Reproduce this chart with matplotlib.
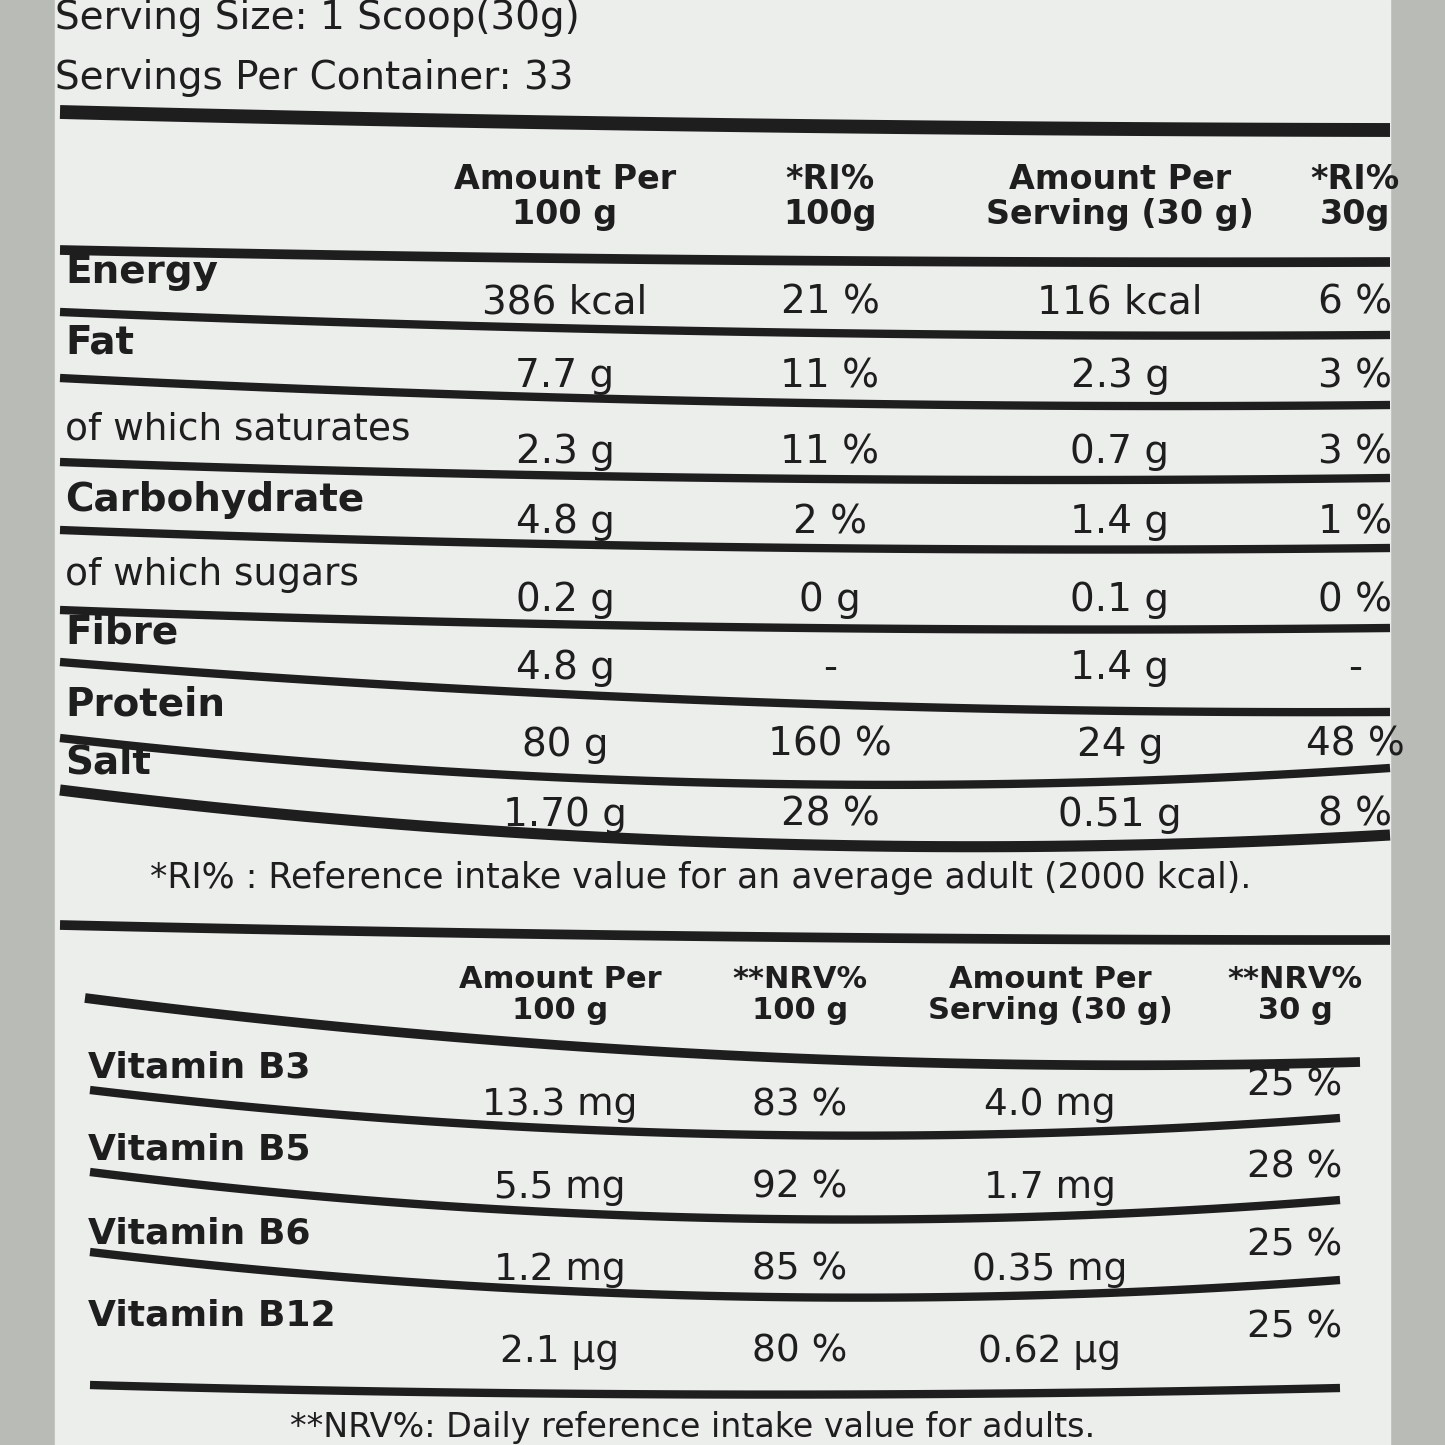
import matplotlib
matplotlib.use('Agg')
import matplotlib.pyplot as plt
import numpy as np

# nutrition table data
nutrients = ['Energy', 'Fat', 'of which saturates', 'Carbohydrate',
             'of which sugars', 'Fibre', 'Protein', 'Salt']
bold_rows = [True, True, False, True, False, True, True, True]
per_100g = ['386 kcal', '7.7 g', '2.3 g', '4.8 g', '0.2 g', '4.8 g', '80 g', '1.70 g']
ri_100g = ['21 %', '11 %', '11 %', '2 %', '0 g', '-', '160 %', '28 %']
per_serving = ['116 kcal', '2.3 g', '0.7 g', '1.4 g', '0.1 g', '1.4 g', '24 g', '0.51 g']
ri_serving = ['6 %', '3 %', '3 %', '1 %', '0 %', '-', '48 %', '8 %']

vitamins = ['Vitamin B3', 'Vitamin B5', 'Vitamin B6', 'Vitamin B12']
vit_100g = ['13.3 mg', '5.5 mg', '1.2 mg', '2.1 µg']
nrv_100g = ['83 %', '92 %', '85 %', '80 %']
vit_serving = ['4.0 mg', '1.7 mg', '0.35 mg', '0.62 µg']
nrv_serving = ['25 %', '28 %', '25 %', '25 %']

fig = plt.figure(figsize=(14.45, 14.45), dpi=100)
fig.patch.set_facecolor('#b9bcb6')
ax = fig.add_axes([0, 0, 1, 1])
ax.set_xlim(0, 1445)
ax.set_ylim(1445, 0)
ax.axis('off')
ax.add_patch(plt.Rectangle((55, 0), 1335, 1445, color='#eceeec', zorder=0))

ink = '#1e1e1e'
ax.text(55, 18, 'Serving Size: 1 Scoop(30g)', fontsize=28, color=ink, va='center')
ax.text(55, 78, 'Servings Per Container: 33', fontsize=28, color=ink, va='center')

# the label is printed on a curved tub, so rule lines sag a little
def rule(y0, y1, sag=8, x0=60, x1=1390, lw=6):
    t = np.linspace(0, 1, 60)
    ax.plot(x0 + (x1 - x0) * t, y0 + (y1 - y0) * t + sag * 4 * t * (1 - t),
            color=ink, lw=lw, solid_capstyle='butt')

rule(112, 130, sag=4, lw=10)
cols = [565, 830, 1120, 1355]
heads = ['Amount Per\n100 g', '*RI%\n100g', 'Amount Per\nServing (30 g)', '*RI%\n30g']
for x, h in zip(cols, heads):
    ax.text(x, 197, h, fontsize=24, fontweight='bold', ha='center', va='center',
            color=ink, linespacing=1.1)
rule(250, 262, sag=4, lw=7)

label_y = [272, 342, 430, 500, 575, 632, 705, 762]
value_y = [303, 376, 452, 522, 600, 668, 745, 815]
line_l = [312, 378, 462, 530, 610, 662, 738, 790]
line_r = [335, 405, 478, 548, 628, 712, 768, 835]
line_sag = [8, 10, 8, 8, 8, 14, 30, 30]
for i in range(len(nutrients)):
    ax.text(65, label_y[i], nutrients[i], fontsize=28 if bold_rows[i] else 27,
            fontweight='bold' if bold_rows[i] else 'normal', va='center', color=ink)
    for x, v in zip(cols, [per_100g[i], ri_100g[i], per_serving[i], ri_serving[i]]):
        ax.text(x, value_y[i], v, fontsize=28, ha='center', va='center', color=ink)
    rule(line_l[i], line_r[i], sag=line_sag[i], lw=6 if i != 7 else 8)

ax.text(150, 878, '*RI% : Reference intake value for an average adult (2000 kcal).',
        fontsize=25, va='center', color=ink)
rule(925, 940, sag=4, lw=7)

vcols = [560, 800, 1050, 1295]
vheads = ['Amount Per\n100 g', '**NRV%\n100 g', 'Amount Per\nServing (30 g)', '**NRV%\n30 g']
for x, h in zip(vcols, vheads):
    ax.text(x, 995, h, fontsize=22, fontweight='bold', ha='center', va='center',
            color=ink, linespacing=1.1)
rule(998, 1062, sag=25, x0=85, x1=1360, lw=7)

vlabel_y = [1068, 1150, 1233, 1315]
vvalue_y = [1105, 1188, 1270, 1352]
nrv_y = [1085, 1168, 1245, 1328]
vline_l = [1090, 1172, 1252, 1385]
vline_r = [1118, 1200, 1280, 1388]
vline_sag = [30, 32, 30, 8]
for i in range(len(vitamins)):
    ax.text(88, vlabel_y[i], vitamins[i], fontsize=26, fontweight='bold',
            va='center', color=ink)
    for x, v in zip(vcols[:3], [vit_100g[i], nrv_100g[i], vit_serving[i]]):
        ax.text(x, vvalue_y[i], v, fontsize=27, ha='center', va='center', color=ink)
    ax.text(vcols[3], nrv_y[i], nrv_serving[i], fontsize=27, ha='center',
            va='center', color=ink)
    rule(vline_l[i], vline_r[i], sag=vline_sag[i], x0=90, x1=1340, lw=6)

ax.text(290, 1428, '**NRV%: Daily reference intake value for adults.',
        fontsize=24, va='center', color=ink)

fig.savefig('out.png', dpi=100)
